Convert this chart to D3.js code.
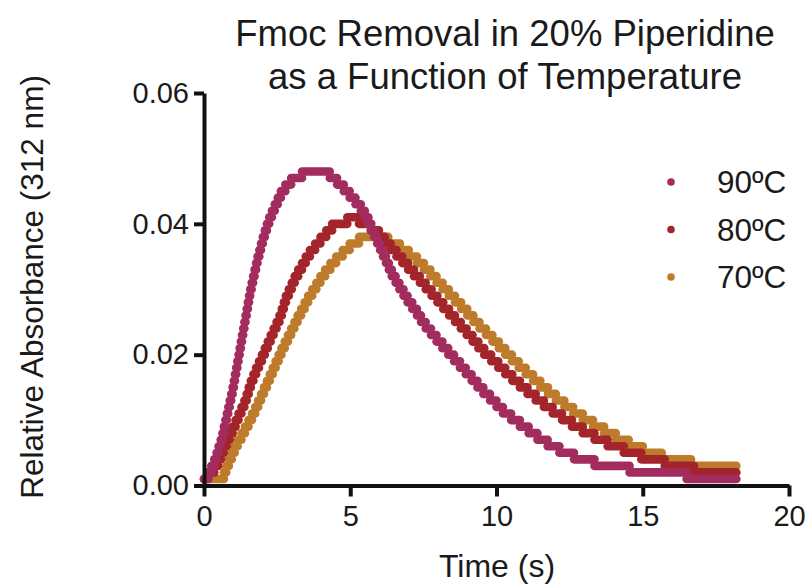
<!DOCTYPE html>
<html>
<head>
<meta charset="utf-8">
<script src="https://cdn.jsdelivr.net/npm/d3@7"></script>
<style>
  body { margin: 0; background: #fff; }
  svg { display: block; font-family: "Liberation Sans", Arial, sans-serif; }
</style>
</head>
<body>
<div id="chart"></div>
<script>
// The instrument reads absorbance in 0.001 steps, so each trace is a run of
// plateaus: the time (s) at which each reading level starts, and the level.
const tEnd = 18.2;

const t90 = [
  0, 0.15, 0.25, 0.35, 0.43, 0.50, 0.57, 0.63, 0.68, 0.73,
  0.78, 0.83, 0.88, 0.93, 0.98, 1.02, 1.06, 1.10, 1.14, 1.18,
  1.22, 1.26, 1.30, 1.34, 1.38, 1.42, 1.46, 1.50, 1.54, 1.58,
  1.63, 1.68, 1.73, 1.78, 1.83, 1.89, 1.95, 2.01, 2.08, 2.15,
  2.23, 2.32, 2.42, 2.52, 2.63, 2.78, 2.98, 3.35,
  4.30, 4.55, 4.78, 4.98, 5.18, 5.36, 5.50, 5.62, 5.72, 5.82,
  5.92, 6.02, 6.12, 6.22, 6.32, 6.42, 6.55, 6.68, 6.82, 6.96,
  7.12, 7.28, 7.42, 7.58, 7.76, 7.95, 8.15, 8.35, 8.55, 8.75,
  8.95, 9.15, 9.35, 9.55, 9.78, 10.0, 10.22, 10.5, 10.8, 11.1,
  11.4, 11.75, 12.15, 12.65, 13.35, 14.55, 16.5
];
const a90 = [
  0.001, 0.002, 0.003, 0.004, 0.005, 0.006, 0.007, 0.008, 0.009, 0.010,
  0.011, 0.012, 0.013, 0.014, 0.015, 0.016, 0.017, 0.018, 0.019, 0.020,
  0.021, 0.022, 0.023, 0.024, 0.025, 0.026, 0.027, 0.028, 0.029, 0.030,
  0.031, 0.032, 0.033, 0.034, 0.035, 0.036, 0.037, 0.038, 0.039, 0.040,
  0.041, 0.042, 0.043, 0.044, 0.045, 0.046, 0.047, 0.048,
  0.047, 0.046, 0.045, 0.044, 0.043, 0.042, 0.041, 0.040, 0.039, 0.038,
  0.037, 0.036, 0.035, 0.034, 0.033, 0.032, 0.031, 0.030, 0.029, 0.028,
  0.027, 0.026, 0.025, 0.024, 0.023, 0.022, 0.021, 0.020, 0.019, 0.018,
  0.017, 0.016, 0.015, 0.014, 0.013, 0.012, 0.011, 0.010, 0.009, 0.008,
  0.007, 0.006, 0.005, 0.004, 0.003, 0.002, 0.001
];

const t80 = [
  0, 0.12, 0.35, 0.48, 0.58, 0.68, 0.78, 0.88, 0.98, 1.08,
  1.18, 1.28, 1.38, 1.46, 1.53, 1.60, 1.69, 1.78, 1.88, 1.98,
  2.08, 2.18, 2.28, 2.38, 2.48, 2.58, 2.66, 2.73, 2.80, 2.90,
  3.00, 3.10, 3.22, 3.35, 3.48, 3.62, 3.80, 3.98, 4.18, 4.38,
  4.90,
  5.30, 5.70, 5.98, 6.18, 6.38, 6.58, 6.78, 6.98, 7.18, 7.38,
  7.58, 7.78, 7.98, 8.18, 8.38, 8.58, 8.78, 8.98, 9.18, 9.38,
  9.58, 9.82, 10.06, 10.3, 10.54, 10.8, 11.06, 11.34, 11.62, 11.92,
  12.24, 12.58, 12.95, 13.35, 13.8, 14.35, 14.95, 15.75, 16.75
];
const a80 = [
  0.001, 0.002, 0.003, 0.004, 0.005, 0.006, 0.007, 0.008, 0.009, 0.010,
  0.011, 0.012, 0.013, 0.014, 0.015, 0.016, 0.017, 0.018, 0.019, 0.020,
  0.021, 0.022, 0.023, 0.024, 0.025, 0.026, 0.027, 0.028, 0.029, 0.030,
  0.031, 0.032, 0.033, 0.034, 0.035, 0.036, 0.037, 0.038, 0.039, 0.040,
  0.041,
  0.040, 0.039, 0.038, 0.037, 0.036, 0.035, 0.034, 0.033, 0.032, 0.031,
  0.030, 0.029, 0.028, 0.027, 0.026, 0.025, 0.024, 0.023, 0.022, 0.021,
  0.020, 0.019, 0.018, 0.017, 0.016, 0.015, 0.014, 0.013, 0.012, 0.011,
  0.010, 0.009, 0.008, 0.007, 0.006, 0.005, 0.004, 0.003, 0.002
];

const t70 = [
  0, 0.68, 0.76, 0.85, 0.95, 1.05, 1.15, 1.28, 1.40, 1.52,
  1.64, 1.75, 1.85, 1.95, 2.05, 2.15, 2.25, 2.35, 2.45, 2.55,
  2.65, 2.76, 2.87, 2.98, 3.09, 3.20, 3.32, 3.44, 3.56, 3.70,
  3.84, 3.98, 4.14, 4.32, 4.52, 4.74, 4.98, 5.30,
  6.30, 6.70, 7.00, 7.28, 7.52, 7.74, 7.95, 8.16, 8.37, 8.58,
  8.79, 9.00, 9.21, 9.42, 9.64, 9.86, 10.08, 10.30, 10.53, 10.76,
  11.00, 11.25, 11.50, 11.76, 12.03, 12.32, 12.62, 12.95, 13.30, 13.68,
  14.08, 14.52, 15.00, 15.65, 16.65
];
const a70 = [
  0.001, 0.002, 0.003, 0.004, 0.005, 0.006, 0.007, 0.008, 0.009, 0.010,
  0.011, 0.012, 0.013, 0.014, 0.015, 0.016, 0.017, 0.018, 0.019, 0.020,
  0.021, 0.022, 0.023, 0.024, 0.025, 0.026, 0.027, 0.028, 0.029, 0.030,
  0.031, 0.032, 0.033, 0.034, 0.035, 0.036, 0.037, 0.038,
  0.037, 0.036, 0.035, 0.034, 0.033, 0.032, 0.031, 0.030, 0.029, 0.028,
  0.027, 0.026, 0.025, 0.024, 0.023, 0.022, 0.021, 0.020, 0.019, 0.018,
  0.017, 0.016, 0.015, 0.014, 0.013, 0.012, 0.011, 0.010, 0.009, 0.008,
  0.007, 0.006, 0.005, 0.004, 0.003
];

const seriesNames = ["90ºC", "80ºC", "70ºC"];
const seriesColors = ["#a32c5f", "#a3242a", "#bf7b2c"];
const xTicks = [0, 5, 10, 15, 20];
const yTicks = [0, 0.02, 0.04, 0.06];

const width = 809;
const height = 586;
const margin = { top: 93, right: 20, bottom: 100.5, left: 204 };
const dotSize = 8.6;

const svg = d3.select("#chart")
  .append("svg")
  .attr("width", width)
  .attr("height", height);

const x = d3.scaleLinear().domain([0, 20]).range([margin.left, 789]);
const y = d3.scaleLinear().domain([0, 0.06]).range([height - margin.bottom, margin.top]);

// title
const title = svg.append("text")
  .attr("text-anchor", "middle")
  .attr("font-size", "36.5px")
  .attr("fill", "#1a1a1a");
title.append("tspan").attr("x", 505).attr("y", 46).text("Fmoc Removal in 20% Piperidine");
title.append("tspan").attr("x", 505).attr("y", 89).text("as a Function of Temperature");

// traces, back to front (90ºC ends on top)
const series = [
  { color: seriesColors[2], times: t70, levels: a70 },
  { color: seriesColors[1], times: t80, levels: a80 },
  { color: seriesColors[0], times: t90, levels: a90 },
];

series.forEach((s) => {
  const runs = s.levels.map((a, i) => ({
    t0: s.times[i],
    t1: i + 1 < s.times.length ? s.times[i + 1] : tEnd,
    a,
  }));

  svg.append("g")
    .selectAll("line")
    .data(runs)
    .enter()
    .append("line")
    .attr("x1", (d) => x(d.t0))
    .attr("x2", (d) => x(d.t1))
    .attr("y1", (d) => y(d.a))
    .attr("y2", (d) => y(d.a))
    .attr("stroke", s.color)
    .attr("stroke-width", dotSize)
    .attr("stroke-linecap", "round");
});

// axes
const xAxis = svg.append("g")
  .attr("transform", `translate(0,${y(0)})`)
  .call(d3.axisBottom(x).tickValues(xTicks).tickFormat(d3.format("d"))
    .tickSize(11).tickSizeOuter(0).tickPadding(9));

const yAxis = svg.append("g")
  .attr("transform", `translate(${x(0)},0)`)
  .call(d3.axisLeft(y).tickValues(yTicks).tickFormat(d3.format(".2f"))
    .tickSize(10).tickSizeOuter(0).tickPadding(5));

[xAxis, yAxis].forEach((g) => {
  g.select(".domain").attr("stroke", "#111").attr("stroke-width", 4);
  g.selectAll(".tick line").attr("stroke", "#111").attr("stroke-width", 4);
  g.selectAll(".tick text")
    .attr("font-size", "29px")
    .attr("font-family", "Liberation Sans, Arial, sans-serif")
    .attr("fill", "#1a1a1a");
});

// axis titles
svg.append("text")
  .attr("x", 497)
  .attr("y", 577)
  .attr("text-anchor", "middle")
  .attr("font-size", "32px")
  .attr("fill", "#1a1a1a")
  .text("Time (s)");

svg.append("text")
  .attr("transform", "translate(43,287) rotate(-90)")
  .attr("text-anchor", "middle")
  .attr("font-size", "31.5px")
  .attr("fill", "#1a1a1a")
  .text("Relative Absorbance (312 nm)");

// legend
const legend = svg.append("g")
  .selectAll("g")
  .data(seriesNames)
  .enter()
  .append("g")
  .attr("transform", (d, i) => `translate(671,${182 + i * 47.5})`);

legend.append("circle")
  .attr("r", 3.8)
  .attr("fill", (d, i) => seriesColors[i]);

legend.append("text")
  .attr("x", 46)
  .attr("dy", "0.36em")
  .attr("font-size", "31.5px")
  .attr("fill", "#1a1a1a")
  .text((d) => d);
</script>
</body>
</html>
